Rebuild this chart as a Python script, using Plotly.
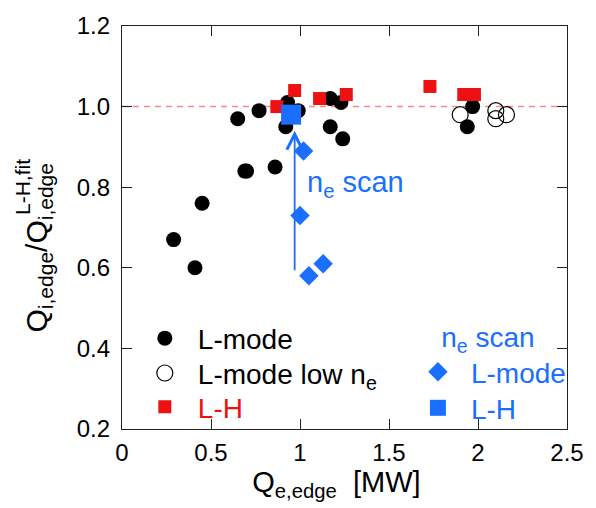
import plotly.graph_objects as go

# ---- data ----
lmode_x = [0.29, 0.41, 0.45, 0.65, 0.69, 0.70, 0.77, 0.86, 0.92, 0.93, 0.99, 1.17, 1.17, 1.23, 1.24, 1.94, 1.97]
lmode_y = [0.67, 0.60, 0.76, 0.97, 0.84, 0.84, 0.99, 0.85, 0.95, 1.01, 0.99, 1.02, 0.95, 1.01, 0.92, 0.95, 1.00]

lowne_x = [1.90, 2.10, 2.10, 2.16]
lowne_y = [0.98, 0.99, 0.97, 0.98]

lh_x = [0.87, 0.97, 1.11, 1.26, 1.73, 1.92, 1.98]
lh_y = [1.00, 1.04, 1.02, 1.03, 1.05, 1.03, 1.03]

scan_lmode_x = [1.02, 1.00, 1.05, 1.13]
scan_lmode_y = [0.89, 0.73, 0.58, 0.61]

scan_lh_x = [0.95]
scan_lh_y = [0.98]

ref_x = [0.0, 2.5]
ref_y = [1.0, 1.0]

arrow_x = 0.97
arrow_y_from = 0.59
arrow_y_to = 0.94

x_ticks = [0, 0.5, 1, 1.5, 2, 2.5]
y_ticks = [0.2, 0.4, 0.6, 0.8, 1.0, 1.2]

BLUE = "#1a6fff"
RED = "#ee1111"
FONT = "Liberation Sans, Arial, Helvetica, sans-serif"

fig = go.Figure()

fig.add_trace(go.Scatter(x=ref_x, y=ref_y, mode="lines",
                         line=dict(color="#f58a8a", width=1.5, dash="6px,5px"),
                         showlegend=False, hoverinfo="skip"))

fig.add_trace(go.Scatter(x=lmode_x, y=lmode_y, mode="markers", name="L-mode",
                         marker=dict(symbol="circle", size=15, color="black"),
                         legend="legend"))
fig.add_trace(go.Scatter(x=lowne_x, y=lowne_y, mode="markers",
                         name="L-mode low n<sub>e</sub>",
                         marker=dict(symbol="circle-open", size=16, color="black",
                                     line=dict(width=1.2, color="black")),
                         legend="legend3"))
fig.add_trace(go.Scatter(x=lh_x, y=lh_y, mode="markers", name="L-H",
                         marker=dict(symbol="square", size=13, color=RED),
                         legend="legend4"))
fig.add_trace(go.Scatter(x=scan_lmode_x, y=scan_lmode_y, mode="markers", name="L-mode",
                         marker=dict(symbol="diamond", size=15, color=BLUE),
                         legend="legend2"))
fig.add_trace(go.Scatter(x=scan_lh_x, y=scan_lh_y, mode="markers", name="L-H",
                         marker=dict(symbol="square", size=20, color=BLUE),
                         legend="legend5"))

# arrow for density scan
fig.add_annotation(x=arrow_x, y=arrow_y_to, ax=arrow_x, ay=arrow_y_from,
                   xref="x", yref="y", axref="x", ayref="y",
                   showarrow=True, arrowhead=5, arrowsize=1.7, arrowwidth=1.8,
                   arrowcolor=BLUE, text="")
fig.add_annotation(x=1.03, y=0.807, xref="x", yref="y", xanchor="left", yanchor="middle",
                   text="n<sub>e</sub> scan", showarrow=False,
                   font=dict(family=FONT, size=29, color=BLUE))

# y-axis title built from pieces (stacked sub/superscript)
fig.add_annotation(x=(37 - 122) / 453, y=(429 - 334) / 405, xref="paper", yref="paper",
                   xanchor="center", yanchor="bottom", textangle=-90, showarrow=False,
                   text="Q<sub>i,edge</sub>/Q<sub>i,edge</sub>",
                   font=dict(family=FONT, size=30, color="black"))
fig.add_annotation(x=(20 - 122) / 453, y=(429 - 186) / 405, xref="paper", yref="paper",
                   xanchor="center", yanchor="middle", textangle=-90, showarrow=False,
                   text="L-H,fit",
                   font=dict(family=FONT, size=21, color="black"))

axis_common = dict(showline=True, linecolor="#222", linewidth=1.3, mirror="allticks",
                   ticks="inside", ticklen=10, tickwidth=1.2, tickcolor="#222",
                   showgrid=False, zeroline=False,
                   tickfont=dict(family=FONT, size=24, color="black"))

fig.update_xaxes(range=[0, 2.5], tickvals=x_ticks, ticktext=[f"{v:g}" for v in x_ticks],
                 ticklabelstandoff=2,
                 title=dict(text="Q<sub>e,edge</sub>  [MW]&nbsp;&nbsp;",
                            font=dict(family=FONT, size=29, color="black"), standoff=0),
                 **axis_common)
fig.update_yaxes(range=[0.2, 1.2], tickvals=y_ticks, ticktext=[f"{v:.1f}" for v in y_ticks],
                 ticklabelstandoff=6, **axis_common)


def py(pix):
    return (429 - pix) / 405


def px(pix):
    return (pix - 122) / 453


single = dict(xanchor="left", yanchor="middle", bgcolor="rgba(0,0,0,0)", borderwidth=0,
              itemwidth=56, tracegroupgap=0)

fig.update_layout(
    width=596, height=508,
    margin=dict(l=122, r=21, t=24, b=79),
    paper_bgcolor="white", plot_bgcolor="white",
    font=dict(family=FONT, color="black"),
    legend=dict(x=px(132), y=py(338), font=dict(family=FONT, size=28, color="black"), **single),
    legend3=dict(x=px(132), y=py(373), font=dict(family=FONT, size=28, color="black"), **single),
    legend4=dict(x=px(132), y=py(407), font=dict(family=FONT, size=28, color=RED), **single),
    legend2=dict(x=px(410), y=py(310), xanchor="left", yanchor="top",
                 bgcolor="rgba(0,0,0,0)", borderwidth=0,
                 title=dict(text="n<sub>e</sub> scan", side="top center",
                            font=dict(family=FONT, size=28, color=BLUE)),
                 font=dict(family=FONT, size=28, color=BLUE),
                 itemwidth=56, tracegroupgap=0),
    legend5=dict(x=px(410), y=py(408), font=dict(family=FONT, size=28, color=BLUE), **single),
    showlegend=True,
)

fig.write_html("out.html")
